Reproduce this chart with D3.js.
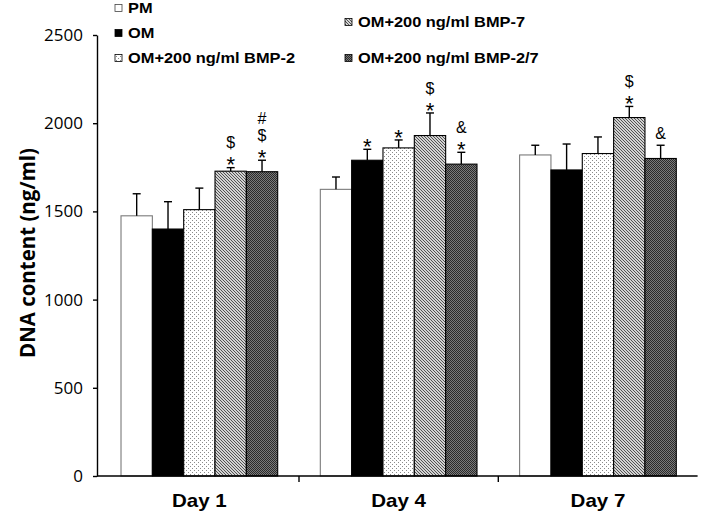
<!DOCTYPE html>
<html><head><meta charset="utf-8">
<script src="https://cdn.jsdelivr.net/npm/d3@7"></script>
<style>body{margin:0;background:#fff}svg{display:block}</style></head>
<body><svg id="c" width="709" height="514"></svg>
<script>
// ---------------- data ----------------
const days = ["Day 1", "Day 4", "Day 7"];
const series = ["PM", "OM", "OM+200 ng/ml BMP-2", "OM+200 ng/ml BMP-7", "OM+200 ng/ml BMP-2/7"];
const meanPM   = [1475, 1625, 1820];
const meanOM   = [1400, 1790, 1735];
const meanBMP2 = [1510, 1860, 1828];
const meanBMP7 = [1728, 1930, 2032];
const meanBMP27= [1725, 1768, 1800];
const errPM    = [125, 70, 55];
const errOM    = [155, 62, 147];
const errBMP2  = [122, 45, 94];
const errBMP7  = [20, 128, 63];
const errBMP27 = [65, 67, 75];
// significance marks per series, per day (bottom to top)
const sigPM    = [[], [], []];
const sigOM    = [[], ["*"], []];
const sigBMP2  = [[], ["*"], []];
const sigBMP7  = [["*", "$"], ["*", "$"], ["*", "$"]];
const sigBMP27 = [["*", "$", "#"], ["*", "&"], ["&"]];
const yTicks = [0, 500, 1000, 1500, 2000, 2500];
const yTitle = "DNA content (ng/ml)";

const means = [meanPM, meanOM, meanBMP2, meanBMP7, meanBMP27];
const errs  = [errPM, errOM, errBMP2, errBMP7, errBMP27];
const sigs  = [sigPM, sigOM, sigBMP2, sigBMP7, sigBMP27];

const rows = [];
days.forEach((d, di) => series.forEach((s, si) => rows.push({
  day: d, s, si, mean: means[si][di], err: errs[si][di], sig: sigs[si][di]
})));

// ---------------- drawing ----------------
const svg = d3.select("#c");
const defs = svg.append("defs");

const pDot = defs.append("pattern").attr("id", "dots").attr("patternUnits", "userSpaceOnUse")
  .attr("width", 4).attr("height", 4);
pDot.append("rect").attr("width", 4).attr("height", 4).attr("fill", "#fff");
pDot.append("rect").attr("x", 0).attr("y", 0).attr("width", 1).attr("height", 1).attr("fill", "#8a8a8a");
pDot.append("rect").attr("x", 2).attr("y", 2).attr("width", 1).attr("height", 1).attr("fill", "#8a8a8a");

const pHatch = defs.append("pattern").attr("id", "hatch").attr("patternUnits", "userSpaceOnUse")
  .attr("width", 3).attr("height", 3);
pHatch.append("rect").attr("width", 3).attr("height", 3).attr("fill", "#d2d2d2");
pHatch.append("path").attr("d", "M-1,-1L4,4M-1,2L1,4M2,-1L4,1")
  .attr("stroke", "#444").attr("stroke-width", 0.9).attr("fill", "none");

const pDark = defs.append("pattern").attr("id", "dark").attr("patternUnits", "userSpaceOnUse")
  .attr("width", 2).attr("height", 2);
pDark.append("rect").attr("width", 2).attr("height", 2).attr("fill", "#7a7a7a");
pDark.append("rect").attr("x", 0).attr("y", 0).attr("width", 1).attr("height", 1).attr("fill", "#2a2a2a");
pDark.append("rect").attr("x", 1).attr("y", 1).attr("width", 1).attr("height", 1).attr("fill", "#2a2a2a");

const fills   = ["#ffffff", "#000000", "url(#dots)", "url(#hatch)", "url(#dark)"];
const strokes = ["#7a7a7a", "#000000", "#000000", "#000000", "#000000"];

const y = d3.scaleLinear().domain([0, 2500]).range([476, 35]);
const x0 = d3.scaleBand().domain(days).range([99.7, 697.6]).paddingInner(0).paddingOuter(0);
const x1 = d3.scaleBand().domain(series).range([0, x0.bandwidth()]).paddingInner(0).paddingOuter(0.68);

// bars
svg.append("g").selectAll("rect").data(rows).join("rect")
  .attr("x", d => x0(d.day) + x1(d.s))
  .attr("y", d => y(d.mean))
  .attr("width", x1.bandwidth())
  .attr("height", d => y(0) - y(d.mean))
  .attr("fill", d => fills[d.si])
  .attr("stroke", d => strokes[d.si])
  .attr("stroke-width", 1.1);

// error bars
const eb = svg.append("g").attr("stroke", "#000").attr("stroke-width", 1.4);
rows.forEach(d => {
  const cx = x0(d.day) + x1(d.s) + x1.bandwidth() / 2;
  eb.append("line").attr("x1", cx).attr("x2", cx).attr("y1", y(d.mean)).attr("y2", y(d.mean + d.err));
  eb.append("line").attr("x1", cx - 4).attr("x2", cx + 4).attr("y1", y(d.mean + d.err)).attr("y2", y(d.mean + d.err));
});

// significance marks
const sg = svg.append("g").attr("font-family", "Liberation Sans, Arial, sans-serif")
  .attr("fill", "#000").attr("text-anchor", "middle");
rows.forEach(d => {
  const cx = x0(d.day) + x1(d.s) + x1.bandwidth() / 2;
  const cap = y(d.mean + d.err);
  let center = null;
  d.sig.forEach((m, i) => {
    if (i === 0) center = (m === "*") ? cap - 8 : cap - 12;
    else center = center - 17;
    const star = m === "*";
    sg.append("text").attr("x", cx).attr("y", center + (star ? 12.7 : 5.6))
      .attr("font-size", star ? 22 : 16).text(m);
  });
});

// y axis
const ya = svg.append("g").attr("transform", "translate(97,0)")
  .call(d3.axisLeft(y).tickValues(yTicks).tickFormat(d3.format("d")).tickSize(4).tickSizeOuter(0).tickPadding(8));
ya.select(".domain").attr("stroke", "#000").attr("stroke-width", 1.4);
ya.selectAll(".tick line").attr("stroke", "#000").attr("stroke-width", 1.4);
ya.selectAll(".tick text").attr("font-family", "Open Sans, sans-serif").attr("font-size", 17)
  .attr("fill", "#000").attr("dx", "-2");

// x axis
const xa = svg.append("g");
xa.append("line").attr("x1", 97).attr("x2", 697.6).attr("y1", y(0)).attr("y2", y(0))
  .attr("stroke", "#000").attr("stroke-width", 1.4);
days.slice(1).forEach(d => {
  xa.append("line").attr("x1", x0(d)).attr("x2", x0(d)).attr("y1", y(0)).attr("y2", y(0) + 6)
    .attr("stroke", "#000").attr("stroke-width", 1.4);
});
days.forEach(d => {
  const t = xa.append("text").attr("x", x0(d) + x0.bandwidth() / 2).attr("y", 507)
    .attr("text-anchor", "middle").attr("font-family", "Liberation Sans, Arial, sans-serif")
    .attr("font-weight", "bold").attr("font-size", 19).attr("fill", "#000").text(d);
  t.attr("textLength", t.node().getComputedTextLength() * 1.08).attr("lengthAdjust", "spacingAndGlyphs");
});

// y title
svg.append("text").attr("transform", "translate(35,253) rotate(-90)")
  .attr("text-anchor", "middle").attr("font-family", "Open Sans, sans-serif")
  .attr("font-weight", "bold").attr("font-size", 22).attr("fill", "#000")
  .attr("textLength", 210).attr("lengthAdjust", "spacingAndGlyphs").text(yTitle);

// legend
const legPos = [[115, 8], [115, 33], [115, 58], [345, 22], [345, 58]];
const lg = svg.append("g");
series.forEach((s, i) => {
  const [lx, ly] = legPos[i];
  lg.append("rect").attr("x", lx).attr("y", ly - 3.5).attr("width", 7).attr("height", 7)
    .attr("fill", fills[i]).attr("stroke", i === 0 ? "#444" : "#000").attr("stroke-width", 0.8);
  const t = lg.append("text").attr("x", lx + 13).attr("y", ly + 5)
    .attr("font-family", "Liberation Sans, Arial, sans-serif").attr("font-weight", "bold")
    .attr("font-size", 14).attr("fill", "#000").text(s);
  const w = t.node().getComputedTextLength();
  t.attr("textLength", w * 1.17).attr("lengthAdjust", "spacingAndGlyphs");
});
</script></body></html>
